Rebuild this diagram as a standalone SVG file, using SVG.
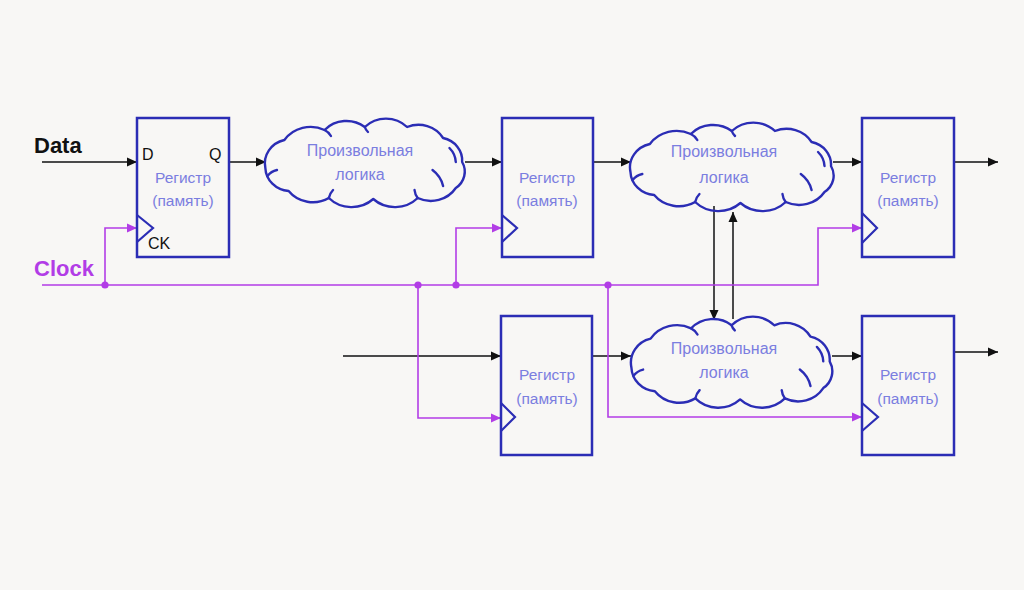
<svg xmlns="http://www.w3.org/2000/svg" xmlns:xlink="http://www.w3.org/1999/xlink" width="1024" height="590" viewBox="0 0 1024 590">
<style>
.box{fill:none;stroke:#2b2db5;stroke-width:2.5}
.clk{fill:none;stroke:#2b2db5;stroke-width:2.2}
.cloud{fill:none;stroke:#2b2db5;stroke-width:2.4;stroke-linejoin:round;stroke-linecap:round;vector-effect:non-scaling-stroke}
.lbl{font-family:"Liberation Sans",Arial,sans-serif;font-size:15.5px;fill:#7b7ee0;text-anchor:middle}
.clbl{font-family:"Liberation Sans",Arial,sans-serif;font-size:16px;fill:#7b7ee0;text-anchor:middle}
.pin{font-family:"Liberation Sans",Arial,sans-serif;font-size:16px;fill:#111}
.big{font-family:"Liberation Sans",Arial,sans-serif;font-size:22px;font-weight:bold}
.w{fill:none;stroke:#111;stroke-width:1.5}
.p{fill:none;stroke:#b23de6;stroke-width:1.6}
.dot{fill:#b23de6}
</style>
<defs>
<marker id="ab" viewBox="0 0 10 10" refX="10" refY="5" markerWidth="10" markerHeight="10" markerUnits="userSpaceOnUse" orient="auto"><path d="M0 0.5 L10 5 L0 9.5 Z" fill="#111"/></marker>
<marker id="ap" viewBox="0 0 10 10" refX="10" refY="5" markerWidth="10" markerHeight="10" markerUnits="userSpaceOnUse" orient="auto"><path d="M0 0.5 L10 5 L0 9.5 Z" fill="#b23de6"/></marker>
<g id="cloudshape">
<path class="cloud" d="M6 50 A24 24 0 0 1 24 22 A30 30 0 0 1 62 12 A28 28 0 0 1 100 9 A28 28 0 0 1 140 9 A27 27 0 0 1 174 20 A23 23 0 0 1 192 44 A20 20 0 0 1 186 70 A28 28 0 0 1 150 80 A30 30 0 0 1 108 81 A30 30 0 0 1 66 80 A29 29 0 0 1 28 73 A24 24 0 0 1 6 50 Z"/>
<path class="cloud" d="M180 30 A22 22 0 0 1 186 44"/>
<path class="cloud" d="M164 52 A28 28 0 0 1 174 68"/>
<path class="cloud" d="M8 58 A16 16 0 0 1 17 52"/>
<path class="cloud" d="M66 80 A16 16 0 0 1 70 72"/>
<path class="cloud" d="M62 12 A14 14 0 0 1 68 18"/>
<path class="cloud" d="M100 9 A12 12 0 0 0 103 14"/>
<path class="cloud" d="M150 80 A16 16 0 0 1 147 72"/>
</g>
</defs>
<rect width="1024" height="590" fill="#f8f7f5"/>

<g id="labels">
<text class="big" x="34" y="153" fill="#111">Data</text>
<text class="big" x="34" y="276" fill="#b23de6">Clock</text>
</g>

<g id="connectors">
<path class="w" d="M42 162 H137" marker-end="url(#ab)"/>
<path class="w" d="M229 162 H266" marker-end="url(#ab)"/>
<path class="w" d="M465 162 H502" marker-end="url(#ab)"/>
<path class="w" d="M593 162 H631" marker-end="url(#ab)"/>
<path class="w" d="M833 162 H862" marker-end="url(#ab)"/>
<path class="w" d="M954 162 H998" marker-end="url(#ab)"/>
<path class="w" d="M343 356 H501" marker-end="url(#ab)"/>
<path class="w" d="M592 356 H631" marker-end="url(#ab)"/>
<path class="w" d="M832 356 H862" marker-end="url(#ab)"/>
<path class="w" d="M954 352 H998" marker-end="url(#ab)"/>
<path class="w" d="M714 206 V320" marker-end="url(#ab)"/>
<path class="w" d="M733 319 V212" marker-end="url(#ab)"/>
<path class="p" d="M42 285 H818 V228 H862" marker-end="url(#ap)"/>
<path class="p" d="M105 285 V228 H137" marker-end="url(#ap)"/>
<path class="p" d="M456 285 V228 H502" marker-end="url(#ap)"/>
<path class="p" d="M418 285 V418 H501" marker-end="url(#ap)"/>
<path class="p" d="M608 285 V417 H862" marker-end="url(#ap)"/>
<circle class="dot" cx="105" cy="285" r="3.6"/>
<circle class="dot" cx="418" cy="285" r="3.6"/>
<circle class="dot" cx="456" cy="285" r="3.6"/>
<circle class="dot" cx="608" cy="285" r="3.6"/>
</g>

<g id="reg1">
<rect class="box" x="137" y="118" width="92" height="139"/>
<path class="clk" d="M137 215 L153 228 L137 242"/>
<text class="pin" x="142" y="160">D</text>
<text class="pin" x="209" y="160">Q</text>
<text class="pin" x="148" y="249">CK</text>
<text class="lbl" x="183" y="183">Регистр</text>
<text class="lbl" x="183" y="206">(память)</text>
</g>

<g id="cloud1">
<use xlink:href="#cloudshape" transform="translate(259,118) scale(1.058,1)"/>
<text class="clbl" x="360" y="156">Произвольная</text>
<text class="clbl" x="360" y="180">логика</text>
</g>

<g id="reg2">
<rect class="box" x="502" y="118" width="91" height="139"/>
<path class="clk" d="M502 215 L517 228 L502 242"/>
<text class="lbl" x="547" y="183">Регистр</text>
<text class="lbl" x="547" y="206">(память)</text>
</g>

<g id="cloud2">
<use xlink:href="#cloudshape" transform="translate(624,122) scale(1.078,1)"/>
<text class="clbl" x="724" y="157">Произвольная</text>
<text class="clbl" x="724" y="183">логика</text>
</g>

<g id="reg4">
<rect class="box" x="862" y="118" width="92" height="139"/>
<path class="clk" d="M862 213 L877 228 L862 243"/>
<text class="lbl" x="908" y="183">Регистр</text>
<text class="lbl" x="908" y="206">(память)</text>
</g>

<g id="reg3">
<rect class="box" x="501" y="316" width="91" height="139"/>
<path class="clk" d="M501 403 L515 417 L501 431"/>
<text class="lbl" x="547" y="380">Регистр</text>
<text class="lbl" x="547" y="404">(память)</text>
</g>

<g id="cloud3">
<use xlink:href="#cloudshape" transform="translate(625,316) scale(1.066,1.03)"/>
<text class="clbl" x="724" y="354">Произвольная</text>
<text class="clbl" x="724" y="378">логика</text>
</g>

<g id="reg5">
<rect class="box" x="862" y="316" width="92" height="139"/>
<path class="clk" d="M862 403 L878 417 L862 431"/>
<text class="lbl" x="908" y="380">Регистр</text>
<text class="lbl" x="908" y="404">(память)</text>
</g>
</svg>
